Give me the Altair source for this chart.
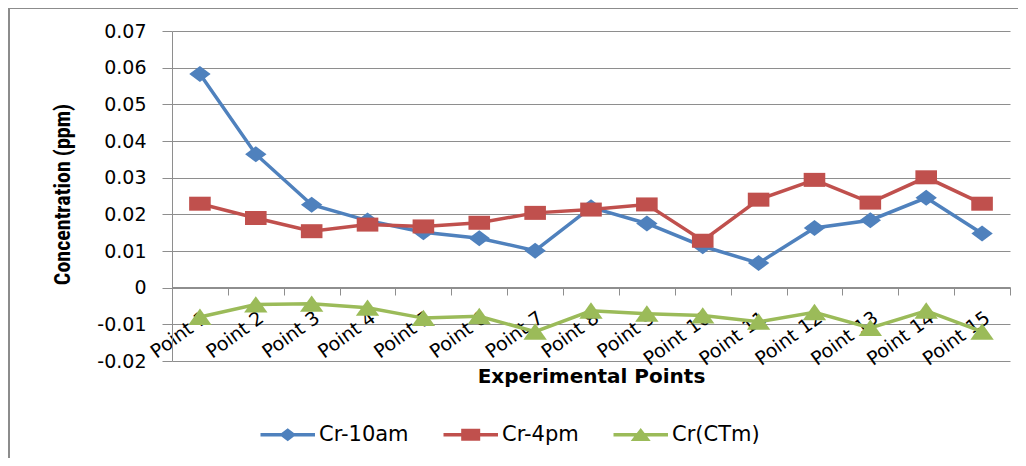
import altair as alt
import pandas as pd

# ---- data ----
points = ["Point 1", "Point 2", "Point 3", "Point 4", "Point 5", "Point 6", "Point 7",
          "Point 8", "Point 9", "Point 10", "Point 11", "Point 12", "Point 13",
          "Point 14", "Point 15"]
series_names = ["Cr-10am", "Cr-4pm", "Cr(CTm)"]
cr_10am = [0.0583, 0.0364, 0.0226, 0.0183, 0.0151, 0.0135, 0.0101, 0.0219,
           0.0175, 0.0113, 0.0067, 0.0163, 0.0184, 0.0245, 0.0148]
cr_4pm = [0.0229, 0.0190, 0.0154, 0.0172, 0.0167, 0.0177, 0.0204, 0.0213,
          0.0227, 0.0128, 0.0240, 0.0294, 0.0232, 0.0301, 0.0229]
cr_ctm = [-0.0080, -0.0046, -0.0044, -0.0055, -0.0083, -0.0078, -0.0120, -0.0063,
          -0.0071, -0.0076, -0.0093, -0.0067, -0.0110, -0.0063, -0.0120]
y_ticks = [-0.02, -0.01, 0, 0.01, 0.02, 0.03, 0.04, 0.05, 0.06, 0.07]

colors = ["#4F81BD", "#C0504D", "#9BBB59"]
marker_paths = [
    "M0,-0.8L1.07,0L0,0.8L-1.07,0Z",
    "M-1.08,-0.7H1.08V0.7H-1.08Z",
    "M0,-0.84L1.17,0.8L-1.17,0.8Z",
]
bar = "M-1,-0.18H4.45V0.18H-1Z "
legend_paths = [
    bar + "M1.72,-0.65L2.57,0L1.72,0.65L0.87,0Z",
    bar + "M0.77,-0.6H2.67V0.6H0.77Z",
    bar + "M1.72,-0.68L2.72,0.62L0.72,0.62Z",
]

rows = []
for name, vals in zip(series_names, [cr_10am, cr_4pm, cr_ctm]):
    for p, v in zip(points, vals):
        rows.append({"point": p, "series": name, "value": v})
df = pd.DataFrame(rows)

FONT = "DejaVu Sans"
GRID = "#8e8e8e"

x_enc = alt.X(
    "point:N", sort=points,
    scale=alt.Scale(type="band", paddingInner=0, paddingOuter=0),
    bandPosition=0.5,
    axis=alt.Axis(
        title="Experimental Points", offset=-74, tickBand="extent", tickSize=8,
        tickColor=GRID, domainColor=GRID, labelAngle=-36, labelAlign="right",
        labelBaseline="top", labelPadding=13, labelFont=FONT, labelFontSize=19,
        labelColor="#000000", titleFont=FONT, titleFontSize=20,
        titleFontWeight="bold", titleColor="#000000", titleY=79,
        titleBaseline="top", grid=False,
    ),
)
y_enc = alt.Y(
    "value:Q",
    scale=alt.Scale(domain=[-0.02, 0.07], nice=False, zero=False),
    axis=alt.Axis(
        title="Concentration (ppm)", values=y_ticks,
        labelExpr="replace(format(datum.value, '.2~f'), '\u2212', '-')",
        tickSize=10, tickColor=GRID, domainColor=GRID, gridColor=GRID,
        labelPadding=16, labelFont=FONT, labelFontSize=19, labelColor="#000000",
        titleFont="Liberation Sans Narrow, Roboto Condensed, Roboto",
        titleFontSize=22, titleFontWeight="bold", titleColor="#000000",
        titleX=-98, titleY=163, titleBaseline="bottom",
    ),
)

layers = []
for name, col, mpath in zip(series_names, colors, marker_paths):
    base = alt.Chart(df).transform_filter(alt.datum.series == name)
    layers.append(base.mark_line(strokeWidth=3.5, color=col).encode(x=x_enc, y=y_enc))
    layers.append(
        base.mark_point(filled=True, opacity=1, size=400, shape=mpath,
                        strokeWidth=0, color=col).encode(x=x_enc, y=y_enc)
    )

leg = alt.Legend(
    orient="none", legendX=88, legendY=393, direction="horizontal", columns=3,
    title=None, symbolSize=400, labelOffset=38, columnPadding=34, padding=0,
    labelFont=FONT, labelFontSize=21, labelColor="#000000",
    symbolOpacity=1, symbolStrokeWidth=0,
)
legend_layer = alt.Chart(df).mark_point(filled=True, opacity=0, size=400).encode(
    x=x_enc, y=y_enc,
    color=alt.Color("series:N", sort=series_names,
                    scale=alt.Scale(domain=series_names, range=colors), legend=leg),
    shape=alt.Shape("series:N", sort=series_names,
                    scale=alt.Scale(domain=series_names, range=legend_paths), legend=leg),
)
layers.append(legend_layer)

frame_df = pd.DataFrame({"k": [0]})
frame_left = alt.Chart(frame_df).mark_rule(color="#8c8c8c", strokeWidth=2).encode(
    x=alt.value(-163), y=alt.value(-23), y2=alt.value(440)
)
frame_top = alt.Chart(frame_df).mark_rule(color="#8c8c8c", strokeWidth=2).encode(
    x=alt.value(-163), x2=alt.value(860), y=alt.value(-23)
)
layers += [frame_left, frame_top]

chart = alt.layer(*layers).properties(
    width=838, height=330,
    autosize=alt.AutoSizeParams(type="none"),
    padding={"left": 164, "top": 23, "right": 8, "bottom": 97},
).configure_view(stroke="transparent")

chart.save("out.html", embed_options={"renderer": "svg", "actions": False})
